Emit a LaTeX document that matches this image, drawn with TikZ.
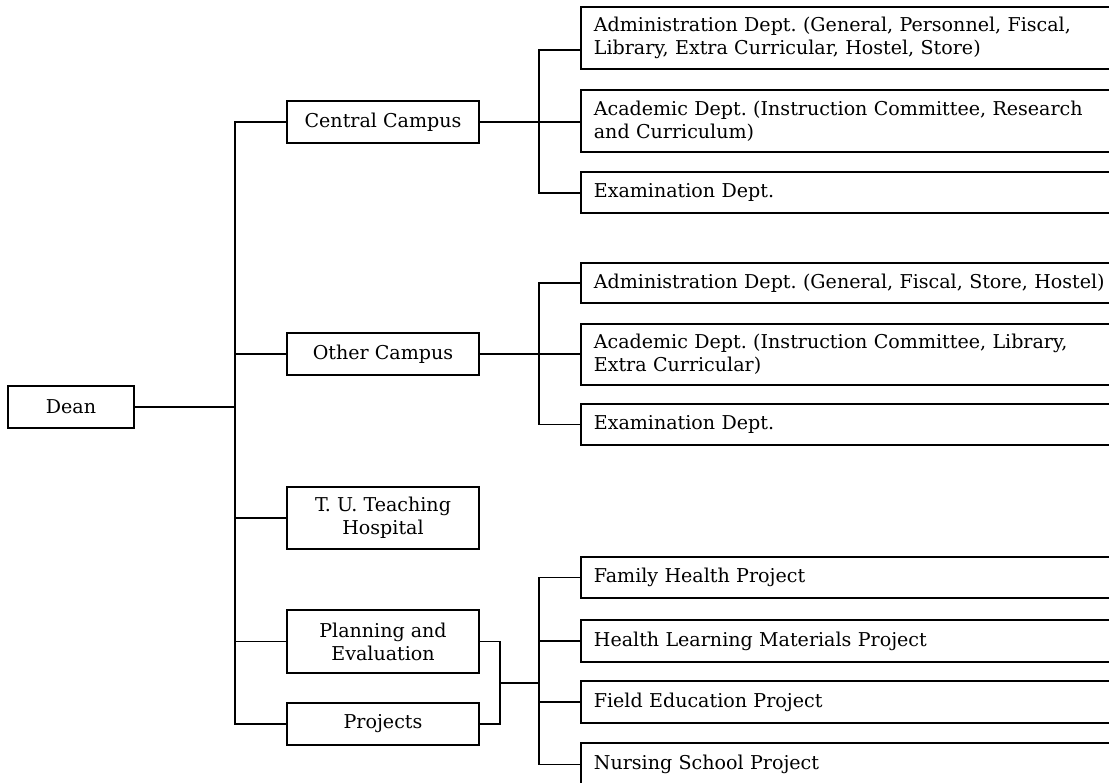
\documentclass[tikz,border=0pt]{standalone}
\usepackage{fontspec}
\setmainfont{DejaVu Serif}
\begin{document}
\frenchspacing
\begin{tikzpicture}[x=0.75pt,y=-0.75pt,
  txt/.style={font=\fontsize{14.3}{17.25}\selectfont},
  box/.style={draw, line width=1.3pt, inner sep=0pt, align=center, txt},
  midbox/.style={box, minimum width=144pt},
  rbox/.style={draw, line width=1.3pt, anchor=west, text width=393pt, inner xsep=9.75pt, inner ysep=0pt, align=left, txt},
  conn/.style={line width=1.3pt}]
\useasboundingbox (0,0) rectangle (1109,782);
\fill[white] (0,0) rectangle (1109,782);
\clip (0,0) rectangle (1109,782);

% left and middle column
\node[box, minimum width=94.5pt, minimum height=31.5pt] (dean) at (71,407) {Dean};
\node[midbox, minimum height=31.5pt] (central) at (383,122) {Central Campus};
\node[midbox, minimum height=31.5pt] (other) at (383,354) {Other Campus};
\node[midbox, minimum height=46.5pt] (hosp) at (383,518) {T. U. Teaching\\Hospital};
\node[midbox, minimum height=47.25pt] (plan) at (383,641.5) {Planning and\\Evaluation};
\node[midbox, minimum height=31.5pt] (proj) at (383,724) {Projects};

% right column
\node[rbox, minimum height=46.5pt] (a1) at (580,38) {Administration Dept. (General, Personnel, Fiscal,\\Library, Extra Curricular, Hostel, Store)};
\node[rbox, minimum height=46.5pt] (a2) at (580,121) {Academic Dept. (Instruction Committee, Research\\and Curriculum)};
\node[rbox, minimum height=30.75pt] (a3) at (580,192.5) {Examination Dept.};
\node[rbox, minimum height=30pt] (b1) at (580,283) {Administration Dept. (General, Fiscal, Store, Hostel)};
\node[rbox, minimum height=45.75pt] (b2) at (580,354.5) {Academic Dept. (Instruction Committee, Library,\\Extra Curricular)};
\node[rbox, minimum height=30.75pt] (b3) at (580,424.5) {Examination Dept.};
\node[rbox, minimum height=30.75pt] (c1) at (580,577.5) {Family Health Project};
\node[rbox, minimum height=31.5pt] (c2) at (580,641) {Health Learning Materials Project};
\node[rbox, minimum height=31.5pt] (c3) at (580,702) {Field Education Project};
\node[rbox, minimum height=32.25pt] (c4) at (580,764.5) {Nursing School Project};

% bus coordinates
\coordinate (bus) at (235,122);
\coordinate (s1t) at (539,50);
\coordinate (s1b) at (539,193);
\coordinate (s2) at (539,283);
\coordinate (s3) at (539,578);
\coordinate (br) at (500,683);

% main bus
\draw[conn] (central.west) -| (proj.west -| bus) -- (proj.west);
\draw[conn] (dean.east) -- (dean.east -| bus);
\draw[conn] (other.west) -- (other.west -| bus);
\draw[conn] (hosp.west) -- (hosp.west -| bus);
\draw[conn] (plan.west) -- (plan.west -| bus);

% central campus branch
\draw[conn] (s1t -| a1.west) -- (s1t) -- (s1b) -- (s1b -| a3.west);
\draw[conn] (central.east) -- (central.east -| a2.west);

% other campus branch
\draw[conn] (b1.west) -| (b3.west -| s2) -- (b3.west);
\draw[conn] (other.east) -- (other.east -| b2.west);

% projects branch
\draw[conn] (plan.east) -| (br) |- (proj.east);
\draw[conn] (br) -- (br -| s3);
\draw[conn] (c1.west) -| (c4.west -| s3) -- (c4.west);
\draw[conn] (c2.west) -- (c2.west -| s3);
\draw[conn] (c3.west) -- (c3.west -| s3);
\end{tikzpicture}
\end{document}
